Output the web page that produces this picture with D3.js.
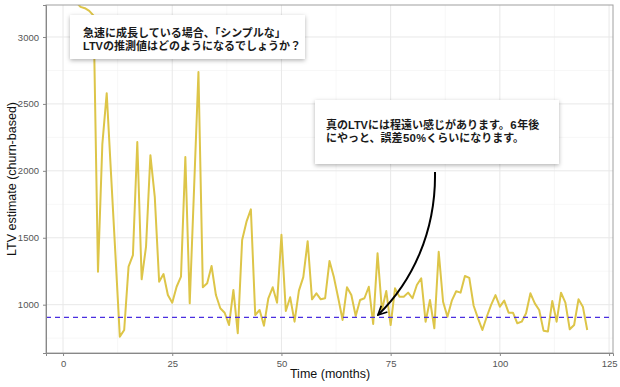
<!DOCTYPE html>
<html lang="ja">
<head>
<meta charset="UTF-8">
<title>LTV estimate</title>
<script src="https://d3js.org/d3.v7.min.js"></script>
<style>
  body { margin: 0; background: #fff; }
  svg { display: block; font-family: "Liberation Sans", Arial, sans-serif; }
  .note { font-family: "Liberation Sans", "Noto Sans CJK JP", sans-serif; font-weight: 700; font-size: 11px; fill: #1a1a1a; }
  .digit { font-family: "Liberation Sans", Arial, sans-serif; font-weight: 700; font-size: 11.5px; fill: #1a1a1a; }
</style>
</head>
<body>
<div id="chart"></div>
<script>
// months on the x axis
var months = d3.range(2, 121);

// churn-based LTV estimate for each month
var ltv = [
  3900, 3260, 3225, 3215, 3195, 3160, 1246, 2200, 2580, 1970,
  1370, 761, 811, 1284, 1371, 2216, 1190, 1433, 2117, 1806,
  1172, 1229, 1072, 1015, 1134, 1209, 2104, 1010, 1870, 2739,
  1130, 1160, 1289, 1072, 973, 940, 848, 1110, 787, 1483,
  1620, 1712, 923, 960, 843, 1048, 1130, 1015, 1522, 953,
  1055, 873, 1105, 1206, 1474, 1040, 1085, 1040, 1048, 1327,
  1206, 1050, 886, 1130, 1072, 916, 1035, 1048, 1134, 856,
  1384, 960, 1102, 848, 1122, 1060, 1060, 1090, 1048, 1147,
  1197, 873, 1035, 824, 1395, 1022, 910, 1030, 1100, 1090,
  1214, 1200, 992, 898, 811, 910, 998, 1072, 985, 1030,
  940, 940, 861, 873, 936, 1085, 1010, 960, 806, 799,
  1028, 873, 1090, 1015, 816, 848, 1040, 985, 811
];

// the true LTV (dashed line)
var trueLtv = 905;

var xTicks = [0, 25, 50, 75, 100, 125];
var xMinor = [12.5, 37.5, 62.5, 87.5, 112.5];
var yTicks = [1000, 1500, 2000, 2500, 3000];
var yMinor = [750, 1250, 1750, 2250, 2750];

var note1 = ["急速に成長している場合、「シンプルな」", "LTVの推測値はどのようになるでしょうか？"];
var note2 = [
  ["真のLTVには程遠い感じがあります。", "6", "年後"],
  ["にやっと、誤差", "50", "%くらいになります。"]
];

var W = 620, H = 387;
var panel = {left: 46, right: 613, top: 5, bottom: 353};

var svg = d3.select("#chart").append("svg")
  .attr("width", W)
  .attr("height", H);

var x = d3.scaleLinear().domain([-3.9, 125.9]).range([panel.left, panel.right]);
var y = d3.scaleLinear().domain([639, 3239]).range([panel.bottom, panel.top]);

var defs = svg.append("defs");
defs.append("clipPath").attr("id", "clip")
  .append("rect")
    .attr("x", panel.left).attr("y", panel.top)
    .attr("width", panel.right - panel.left)
    .attr("height", panel.bottom - panel.top);

var shadow = defs.append("filter").attr("id", "shadow")
  .attr("x", "-10%").attr("y", "-20%").attr("width", "120%").attr("height", "150%");
shadow.append("feDropShadow")
  .attr("dx", 0).attr("dy", 1.5)
  .attr("stdDeviation", 2)
  .attr("flood-color", "#000")
  .attr("flood-opacity", 0.3);

defs.append("marker")
  .attr("id", "head")
  .attr("viewBox", "0 0 10 10")
  .attr("refX", 9).attr("refY", 5)
  .attr("markerWidth", 5.5).attr("markerHeight", 5.5)
  .attr("markerUnits", "strokeWidth")
  .attr("orient", "auto")
  .append("path")
    .attr("d", "M1,1 L9,5 L1,9")
    .attr("fill", "none")
    .attr("stroke", "#000")
    .attr("stroke-width", 1.6);

// grid
var grid = svg.append("g");
grid.selectAll(".xmin").data(xMinor).enter().append("line")
  .attr("x1", d => x(d)).attr("x2", d => x(d))
  .attr("y1", panel.top).attr("y2", panel.bottom)
  .attr("stroke", "#f2f2f2").attr("stroke-width", 0.6);
grid.selectAll(".ymin").data(yMinor).enter().append("line")
  .attr("y1", d => y(d)).attr("y2", d => y(d))
  .attr("x1", panel.left).attr("x2", panel.right)
  .attr("stroke", "#f2f2f2").attr("stroke-width", 0.6);
grid.selectAll(".xmaj").data(xTicks).enter().append("line")
  .attr("x1", d => x(d)).attr("x2", d => x(d))
  .attr("y1", panel.top).attr("y2", panel.bottom)
  .attr("stroke", "#e8e8e8").attr("stroke-width", 1);
grid.selectAll(".ymaj").data(yTicks).enter().append("line")
  .attr("y1", d => y(d)).attr("y2", d => y(d))
  .attr("x1", panel.left).attr("x2", panel.right)
  .attr("stroke", "#e8e8e8").attr("stroke-width", 1);

// the estimate line
var line = d3.line()
  .x((d, i) => x(months[i]))
  .y(d => y(d));

svg.append("path")
  .datum(ltv)
  .attr("clip-path", "url(#clip)")
  .attr("d", line)
  .attr("fill", "none")
  .attr("stroke", "#ddc548")
  .attr("stroke-width", 2)
  .attr("stroke-linejoin", "round");

// true LTV
svg.append("line")
  .attr("x1", panel.left).attr("x2", panel.right)
  .attr("y1", y(trueLtv)).attr("y2", y(trueLtv))
  .attr("stroke", "#4a2ee0")
  .attr("stroke-width", 1.2)
  .attr("stroke-dasharray", "5,4");

// panel border
svg.append("rect")
  .attr("x", panel.left).attr("y", panel.top)
  .attr("width", panel.right - panel.left)
  .attr("height", panel.bottom - panel.top)
  .attr("fill", "none")
  .attr("stroke", "#a0a0a0")
  .attr("stroke-width", 1);

// axes
var xAxis = svg.append("g")
  .attr("transform", "translate(0," + panel.bottom + ")")
  .call(d3.axisBottom(x).tickValues(xTicks).tickSize(3).tickPadding(4));
var yAxis = svg.append("g")
  .attr("transform", "translate(" + panel.left + ",0)")
  .call(d3.axisLeft(y).tickValues(yTicks).tickFormat(d3.format("d")).tickSize(3).tickPadding(4));

[xAxis, yAxis].forEach(function(a) {
  a.select(".domain").attr("stroke", "#888");
  a.selectAll(".tick line").attr("stroke", "#888");
  a.selectAll(".tick text")
    .attr("fill", "#555")
    .attr("font-size", "9.5px")
    .attr("font-family", "'Liberation Sans', Arial, sans-serif");
});

svg.append("text")
  .attr("x", 330).attr("y", 378)
  .attr("text-anchor", "middle")
  .attr("font-size", "12.5px")
  .attr("fill", "#111")
  .text("Time (months)");

svg.append("text")
  .attr("transform", "translate(16," + ((panel.top + panel.bottom) / 2) + ") rotate(-90)")
  .attr("text-anchor", "middle")
  .attr("font-size", "12.5px")
  .attr("fill", "#111")
  .text("LTV estimate (churn-based)");

// arrow
svg.append("path")
  .attr("d", "M435,172 C436,232 412,282 378,315")
  .attr("fill", "none")
  .attr("stroke", "#000")
  .attr("stroke-width", 2)
  .attr("marker-end", "url(#head)");

// annotation boxes
svg.append("rect")
  .attr("x", 70).attr("y", 15).attr("width", 235).attr("height", 44)
  .attr("fill", "#fff")
  .attr("filter", "url(#shadow)");
svg.selectAll(".n1").data(note1).enter().append("text")
  .attr("class", "note")
  .attr("x", 83)
  .attr("y", (d, i) => 37 + i * 13)
  .text(d => d);

svg.append("rect")
  .attr("x", 315).attr("y", 100).attr("width", 244).attr("height", 64)
  .attr("fill", "#fff")
  .attr("filter", "url(#shadow)");

// each line is split so the digits can be a little larger
note2.forEach(function(parts, i) {
  var cx = 326;
  parts.forEach(function(p, j) {
    var t = svg.append("text")
      .attr("class", j == 1 ? "digit" : "note")
      .attr("x", cx)
      .attr("y", 129 + i * 13)
      .text(p);
    cx += t.node().getComputedTextLength() + 0.5;
  });
});
</script>
</body>
</html>
